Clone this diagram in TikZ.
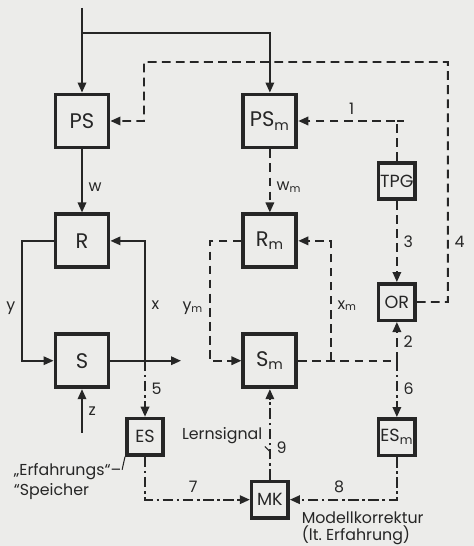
\documentclass[tikz,border=0pt]{standalone}
\usepackage{fontspec}
\setmainfont{Poppins}
\usetikzlibrary{arrows.meta, positioning, calc}
\definecolor{paperGray}{HTML}{ECECEA}
\definecolor{inkDark}{HTML}{262626}
\tikzset{
  arrowS/.style={-{Stealth[length=2mm, width=1.7mm, inset=0pt]}},
  dashL/.style={dash pattern=on 5pt off 3pt},
  dashDot/.style={dash pattern=on 6pt off 2pt on 1.5pt off 2pt},
  boxBig/.style={rectangle, draw, line width=2.2pt, minimum size=1.06cm,
                 inner sep=0pt, font=\large},
  boxSmall/.style={rectangle, draw, line width=2pt, minimum size=0.73cm,
                   inner sep=0pt, font=\normalsize},
  note/.style={align=left, anchor=north west, inner sep=0pt, font=\small},
}

\begin{document}
\begin{tikzpicture}[font=\small, node distance=1.26cm, color=inkDark, line width=1pt]
  \fill[paperGray] (-1.64,2.42) rectangle (7.84,-8.5);
  \useasboundingbox (-1.64,2.42) rectangle (7.84,-8.5);

  % Strecke und Modell
  \node[boxBig] (PS) {PS};
  \node[boxBig, right=2.62cm of PS] (PSm) {PS\textsubscript{m}};
  \node[boxBig, below=of PS] (R) {R};
  \node[boxBig, below=of R] (S) {S};
  \node[boxBig, below=of PSm] (Rm) {R\textsubscript{m}};
  \node[boxBig, below=of Rm] (Sm) {S\textsubscript{m}};
  \node[boxSmall] (TPG) at ($(PSm)+(2.54,-1.2)$) {TPG};
  \node[boxSmall, below=1.62cm of TPG] (OR) {OR};
  \node[boxSmall, below=1.9cm of OR] (ESm) {ES\textsubscript{m}};
  \node[boxSmall] (ES) at ($(S)+(1.26,-1.52)$) {ES};
  \node[boxSmall, below=1.81cm of Sm] (MK) {MK};

  % Hilfspunkte
  \coordinate (in) at ($(PS)+(0,2.26)$);
  \coordinate (br) at ($(PS)+(0,1.76)$);
  \coordinate (z) at ($(S)+(0,-1.44)$);
  \coordinate (out) at ($(S)+(1.98,0)$);
  \coordinate (xj) at (ES.north |- S.east);
  \coordinate (xmj) at ($(Sm)+(1.22,0)$);
  \coordinate (jm) at (OR.south |- Sm.east);
  \coordinate (c4a) at ($(OR)+(1.02,4.8)$);
  \coordinate (c4b) at ($(PS)+(1.24,1.18)$);

  % Regelkreis
  \draw[arrowS] (in) -- (PS.north);
  \draw[arrowS] (br) -| (PSm.north);
  \draw[arrowS] (PS) -- node[right, pos=0.6] {w} (R);
  \draw[arrowS] (R.west) -- ++(-0.63,0) |- node[left, pos=0.28] {y} (S.west);
  \draw[arrowS] (xj) |- node[right, pos=0.23] {x} (R.east);
  \draw[arrowS] (S.east) -- (out);
  \draw[arrowS] (z) -- node[right] {z} (S.south);

  % Modellkreis
  \draw[arrowS, dashL] (PSm) -- node[right, pos=0.6] {w\textsubscript{m}} (Rm);
  \draw[arrowS, dashL] (Rm.west) -- ++(-0.63,0) |- node[left, pos=0.28] {y\textsubscript{m}} (Sm.west);
  \draw[arrowS, dashL] (xmj) |- node[right, pos=0.23] {x\textsubscript{m}} (Rm.east);
  \draw[dashL] (Sm.east) -- (jm);
  \draw[arrowS, dashL] (jm) -- node[right] {2} (OR.south);
  \draw[arrowS, dashDot] (jm) -- node[right] {6} (ESm.north);

  \draw[arrowS, dashL] (TPG.north) |- node[above, pos=0.73] {1} (PSm.east);
  \draw[dashL] (TPG.north |- PSm.east) -- ++(0.14,0);
  \draw[arrowS, dashL] (TPG) -- node[right] {3} (OR);
  \draw[arrowS, dashL] (OR.east) -| node[right, pos=0.625] {4} (c4a) -- (c4b) |- (PS.east);

  % Erfahrung und Korrektur
  \draw[arrowS, dashDot] (xj) -- node[right] {5} (ES.north);
  \draw[arrowS, dashDot] (ES.south) |- node[above, pos=0.73] {7} (MK.west);
  \draw[arrowS, dashDot] (ESm.south) |- node[above, pos=0.77] {8} (MK.east);
  \draw[arrowS, dashDot] (MK) -- node[right, pos=0.35] {9} coordinate[pos=0.31] (l9) (Sm);

  \node[anchor=base east, inner sep=1pt] (lern) at ($(l9)+(-0.1,0.24)$) {Lernsignal};
  \draw[line width=0.6pt] (lern.south east) -- (l9);
  \node[note] (esl) at ($(ES)+(-2.64,-0.52)$) {„Erfahrungs“–\\“Speicher};
  \draw[line width=0.6pt] (ES.south west) -- ($(esl.north east)+(0,-0.14)$);
  \node[note] (mkl) at ($(MK.east)+(0.22,-0.22)$) {Modellkorrektur\\[-1pt](lt.\ Erfahrung)};
\end{tikzpicture}
\end{document}
